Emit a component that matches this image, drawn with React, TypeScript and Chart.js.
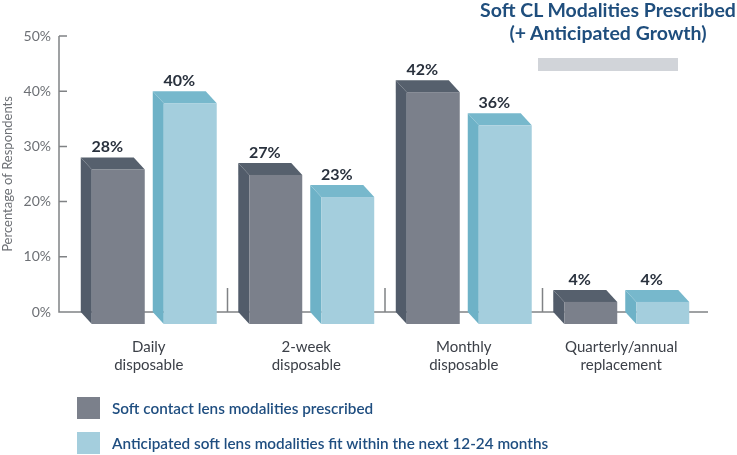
import { useEffect, useRef } from 'react';
import { Chart, registerables } from 'chart.js';

Chart.register(...registerables);

const categories: string[][] = [
  ['Daily', 'disposable'],
  ['2-week', 'disposable'],
  ['Monthly', 'disposable'],
  ['Quarterly/annual', 'replacement'],
];
const prescribed = [28, 27, 42, 4];
const anticipated = [40, 23, 36, 4];
const yTickValues = [0, 10, 20, 30, 40, 50];
const seriesNames = [
  'Soft contact lens modalities prescribed',
  'Anticipated soft lens modalities fit within the next 12-24 months',
];
const titleLines = ['Soft CL Modalities Prescribed', '(+ Anticipated Growth)'];
const yAxisTitle = 'Percentage of Respondents';

const FONT = 'Lato, "Open Sans", sans-serif';
const DX = 11;
const DY = 12;
const faces = [
  { front: '#7b808b', side: '#525c6a', top: '#56606d' },
  { front: '#a4cedd', side: '#6eb2c7', top: '#77b8cc' },
];
const AXIS_COLOR = '#808285';

const bar3d = {
  id: 'bar3d',
  beforeDatasetsDraw(chart: any) {
    const ctx = chart.ctx;
    const { left, right } = chart.chartArea;
    const ys = chart.scales.y;
    const xs = chart.scales.x;
    const y0 = ys.getPixelForValue(0);
    const ax = left - 11;
    ctx.save();
    ctx.strokeStyle = AXIS_COLOR;
    ctx.lineWidth = 1.5;
    ctx.beginPath();
    ctx.moveTo(ax, ys.getPixelForValue(yTickValues[yTickValues.length - 1]));
    ctx.lineTo(ax, y0);
    ctx.lineTo(right + 8, y0);
    yTickValues.forEach((v) => {
      const yy = ys.getPixelForValue(v);
      ctx.moveTo(ax, yy);
      ctx.lineTo(ax + 8, yy);
    });
    for (let i = 0; i < categories.length - 1; i++) {
      const sx = (xs.getPixelForValue(i) + xs.getPixelForValue(i + 1)) / 2;
      ctx.moveTo(sx, y0 - 24);
      ctx.lineTo(sx, y0);
    }
    ctx.stroke();
    ctx.restore();
  },
  afterDatasetsDraw(chart: any) {
    const ctx = chart.ctx;
    const y0 = chart.scales.y.getPixelForValue(0);
    ctx.save();
    chart.data.datasets.forEach((ds: any, di: number) => {
      const meta = chart.getDatasetMeta(di);
      meta.data.forEach((el: any, i: number) => {
        const { x, y, width } = el.getProps(['x', 'y', 'width'], true);
        const f = faces[di];
        const l = x - width / 2 - DX / 2;
        const r = x + width / 2 - DX / 2;
        ctx.fillStyle = f.side;
        ctx.beginPath();
        ctx.moveTo(l, y);
        ctx.lineTo(l + DX, y + DY);
        ctx.lineTo(l + DX, y0 + DY);
        ctx.lineTo(l, y0);
        ctx.closePath();
        ctx.fill();
        ctx.fillStyle = f.top;
        ctx.beginPath();
        ctx.moveTo(l, y);
        ctx.lineTo(r, y);
        ctx.lineTo(r + DX, y + DY);
        ctx.lineTo(l + DX, y + DY);
        ctx.closePath();
        ctx.fill();
        ctx.fillStyle = f.front;
        ctx.fillRect(l + DX, y + DY, width, y0 - y);
        ctx.fillStyle = '#29313d';
        ctx.font = `bold 16px ${FONT}`;
        ctx.textAlign = 'center';
        ctx.textBaseline = 'alphabetic';
        ctx.fillText(`${ds.data[i]}%`, (l + r) / 2, y - 5);
      });
    });
    ctx.restore();
  },
};

export default function App() {
  const ref = useRef<HTMLCanvasElement | null>(null);

  useEffect(() => {
    document.body.style.margin = '0';
    if (!ref.current) return;
    Chart.defaults.font.family = FONT;
    const chart = new Chart(ref.current, {
      type: 'bar',
      data: {
        labels: categories,
        datasets: [
          {
            label: seriesNames[0],
            data: prescribed,
            backgroundColor: 'rgba(0,0,0,0)',
            categoryPercentage: 0.914,
            barPercentage: 0.736,
          },
          {
            label: seriesNames[1],
            data: anticipated,
            backgroundColor: 'rgba(0,0,0,0)',
            categoryPercentage: 0.914,
            barPercentage: 0.736,
          },
        ],
      },
      options: {
        responsive: false,
        animation: false,
        devicePixelRatio: 1,
        layout: { padding: { left: 0, right: 37, top: 36, bottom: 63 } },
        plugins: {
          legend: { display: false },
          title: { display: false },
          tooltip: { enabled: false },
        },
        scales: {
          x: {
            grid: { display: false, drawTicks: false },
            border: { display: false },
            ticks: {
              color: '#3c4048',
              font: { size: 15, lineHeight: 1.2 },
              padding: 26,
              maxRotation: 0,
              autoSkip: false,
            },
            afterFit: (s: any) => {
              s.height = 80;
            },
          },
          y: {
            min: 0,
            max: 50,
            grid: { display: false, drawTicks: false },
            border: { display: false },
            ticks: {
              stepSize: 10,
              color: '#6d7075',
              font: { size: 14 },
              padding: 19,
              callback: (v: any) => `${v}%`,
            },
            title: {
              display: true,
              text: yAxisTitle,
              color: '#6d7075',
              font: { size: 13 },
              padding: { top: 0, bottom: 0 },
            },
            afterFit: (s: any) => {
              s.width = 70;
            },
          },
        },
      },
      plugins: [bar3d],
    });
    return () => chart.destroy();
  }, []);

  return (
    <div style={{ position: 'relative', width: 737, height: 455, fontFamily: FONT, overflow: 'hidden' }}>
      <canvas ref={ref} width={737} height={455} style={{ position: 'absolute', left: 0, top: 0 }} />
      <div
        style={{
          position: 'absolute',
          left: 470,
          top: -2,
          width: 276,
          textAlign: 'center',
          color: '#1f4e7d',
          fontWeight: 700,
          fontSize: 19.5,
          lineHeight: '23px',
          whiteSpace: 'nowrap',
        }}
      >
        {titleLines.map((t) => (
          <div key={t}>{t}</div>
        ))}
      </div>
      <div style={{ position: 'absolute', left: 538, top: 58, width: 140, height: 13, background: '#d1d4d9' }} />
      {seriesNames.map((name, i) => (
        <div key={name} style={{ position: 'absolute', left: 77, top: 397 + i * 35, height: 22, display: 'flex', alignItems: 'center' }}>
          <div style={{ width: 23, height: 22, background: faces[i].front }} />
          <span style={{ marginLeft: 12, color: '#1f4e80', fontSize: 15.3, fontWeight: 600, whiteSpace: 'nowrap' }}>{name}</span>
        </div>
      ))}
    </div>
  );
}
